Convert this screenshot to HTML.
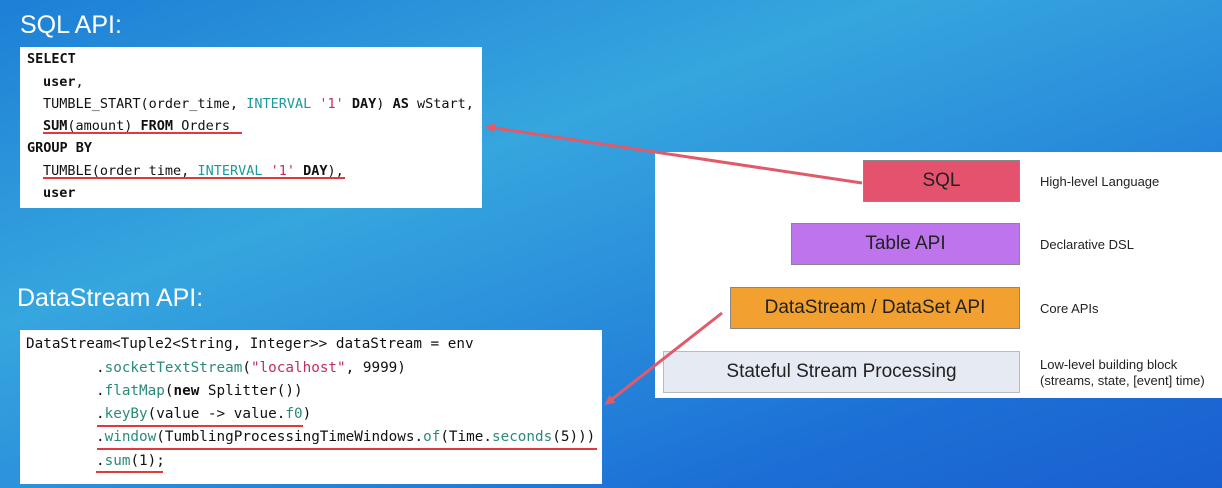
<!DOCTYPE html>
<html><head><meta charset="utf-8"><style>
body{margin:0;width:1222px;height:488px;overflow:hidden;position:relative;
background:linear-gradient(160deg,#1d7fd6 0%,#36a6de 35%,#2a8fdb 55%,#1c6fd6 80%,#1a5fcf 100%);font-family:"Liberation Sans",sans-serif}
.t{position:absolute;color:#fff;font-size:25px}
.code{position:absolute;background:#fff;font-family:"DejaVu Sans Mono","Liberation Mono",monospace;font-size:13.5px;color:#111}
.code div{position:absolute;white-space:pre}
b{font-weight:bold}
.c{color:#1a9a9a}.r{color:#c0305a}.g{color:#2a8a7a}
.u{position:absolute;height:2px;background:#e03a40}
.box{position:absolute;border:1px solid #888;display:flex;align-items:center;justify-content:center;font-size:19px;line-height:20px;color:#222;box-sizing:border-box}
.lb{position:absolute;font-size:13px;color:#222;line-height:16px}
</style></head><body>
<div class="t" style="left:20px;top:11px">SQL API:</div>
<div class="t" style="left:17px;top:284px">DataStream API:</div>

<div class="code" style="left:20px;top:47px;width:462px;height:161px">
<div style="left:7px;top:4px"><b>SELECT</b></div>
<div style="left:23px;top:27px"><b>user</b>,</div>
<div style="left:23px;top:49px">TUMBLE_START(order_time, <span class="c">INTERVAL</span> <span class="r">'1'</span> <b>DAY</b>) <b>AS</b> wStart,</div>
<div style="left:23px;top:71px"><b>SUM</b>(amount) <b>FROM</b> Orders</div>
<div style="left:7px;top:93px"><b>GROUP BY</b></div>
<div style="left:23px;top:116px">TUMBLE(order_time, <span class="c">INTERVAL</span> <span class="r">'1'</span> <b>DAY</b>),</div>
<div style="left:23px;top:138px"><b>user</b></div>
</div>
<div class="u" style="left:43px;top:132px;width:199px"></div>
<div class="u" style="left:43px;top:177px;width:302px"></div>

<div class="code" style="left:20px;top:330px;width:582px;height:154px;font-size:14.3px">
<div style="left:6px;top:6px">DataStream&lt;Tuple2&lt;String, Integer&gt;&gt; dataStream = env</div>
<div style="left:76px;top:30px">.<span class="g">socketTextStream</span>(<span class="r">"localhost"</span>, 9999)</div>
<div style="left:76px;top:53px">.<span class="g">flatMap</span>(<b>new</b> Splitter())</div>
<div style="left:76px;top:76px">.<span class="g">keyBy</span>(value -&gt; value.<span class="g">f0</span>)</div>
<div style="left:76px;top:99px">.<span class="g">window</span>(TumblingProcessingTimeWindows.<span class="g">of</span>(Time.<span class="g">seconds</span>(5)))</div>
<div style="left:76px;top:123px">.<span class="g">sum</span>(1);</div>
</div>
<div class="u" style="left:97px;top:425px;width:206px"></div>
<div class="u" style="left:97px;top:448px;width:500px"></div>
<div class="u" style="left:96px;top:471px;width:67px"></div>

<div style="position:absolute;left:655px;top:152px;width:567px;height:246px;background:#fff"></div>
<div class="box" style="left:863px;top:160px;width:157px;height:42px;background:#e5526e">SQL</div>
<div class="box" style="left:791px;top:223px;width:229px;height:42px;background:#bd74ec">Table API</div>
<div class="box" style="left:730px;top:287px;width:290px;height:42px;background:#f2a130">DataStream / DataSet API</div>
<div class="box" style="left:663px;top:351px;width:357px;height:42px;background:#e6eaf2;border-color:#bbb">Stateful Stream Processing</div>
<div class="lb" style="left:1040px;top:174px">High-level Language</div>
<div class="lb" style="left:1040px;top:237px">Declarative DSL</div>
<div class="lb" style="left:1040px;top:301px">Core APIs</div>
<div class="lb" style="left:1040px;top:357px">Low-level building block<br>(streams, state, [event] time)</div>

<svg width="1222" height="488" style="position:absolute;left:0;top:0">
<defs><marker id="a" markerWidth="10" markerHeight="10" refX="7" refY="5" orient="auto" markerUnits="userSpaceOnUse"><path d="M0,0 L10,5 L0,10 z" fill="#e05a6a"/></marker></defs>
<line x1="862" y1="183" x2="488" y2="127" stroke="#e05a6a" stroke-width="3" marker-end="url(#a)"/>
<line x1="722" y1="313" x2="607" y2="403" stroke="#e05a6a" stroke-width="3" marker-end="url(#a)"/>
</svg>
</body></html>
